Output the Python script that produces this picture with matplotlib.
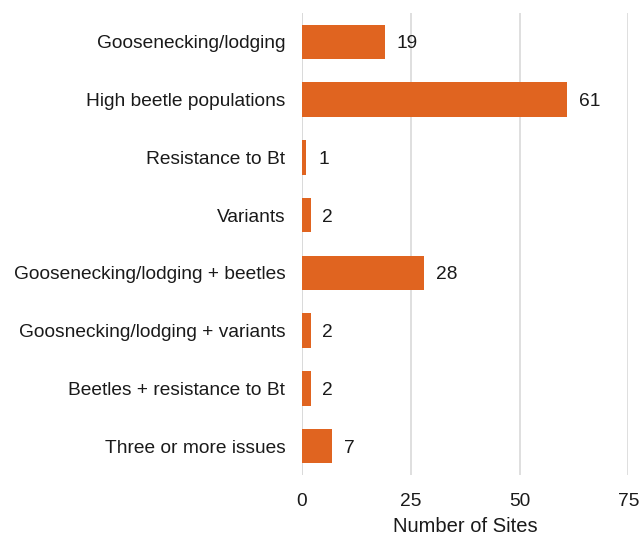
import matplotlib
matplotlib.use('Agg')
import matplotlib.pyplot as plt
import numpy as np

categories = ['Goosenecking/lodging', 'High beetle populations', 'Resistance to Bt',
              'Variants', 'Goosenecking/lodging + beetles', 'Goosnecking/lodging + variants',
              'Beetles + resistance to Bt', 'Three or more issues']
sites = [19, 61, 1, 2, 28, 2, 2, 7]
xticks = [0, 25, 50, 75]

plt.rcParams['font.family'] = ['Liberation Sans', 'DejaVu Sans']

fig = plt.figure(figsize=(6.41, 5.37), dpi=100)
ax = fig.add_axes([0.4711, 0.1155, 0.5091, 0.8603])

y = np.arange(len(categories))
ax.barh(y, sites, height=0.6, color='#E06420', zorder=3)
for yi, v in zip(y, sites):
    ax.text(v + 2.7, yi, str(v), va='center_baseline', ha='left', fontsize=13.8, color='#1a1a1a')

ax.set_xlim(0, 75)
ax.set_ylim(len(categories) - 0.5, -0.5)
ax.set_yticks(y)
ax.set_yticklabels(categories, fontsize=13.8, color='#1a1a1a')
ax.set_xticks(xticks)
ax.set_xticklabels([str(t) for t in xticks], fontsize=13.8, color='#1a1a1a')
ax.tick_params(axis='both', length=0)
ax.tick_params(axis='y', pad=12)
ax.tick_params(axis='x', pad=13)
ax.grid(axis='x', color='#D9D9D9', linewidth=1.2, zorder=0)
for s in ax.spines.values():
    s.set_visible(False)
ax.axvline(0, color='#D9D9D9', linewidth=1.2, zorder=1)
ax.set_xlabel('Number of Sites', fontsize=14.5, color='#1a1a1a', labelpad=5)

fig.savefig('out.png', dpi=100)
